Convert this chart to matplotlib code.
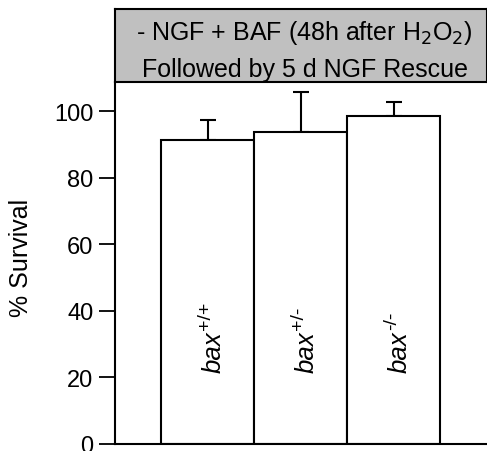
import matplotlib.pyplot as plt

plt.rcParams['font.family'] = ['Liberation Sans', 'DejaVu Sans']

genotypes = ['+/+', '+/-', '-/-']
survival = [91.4, 93.8, 98.6]
sem = [5.8, 12.0, 4.0]
yticks = [0, 20, 40, 60, 80, 100]

fig = plt.figure(figsize=(4.87, 4.52), dpi=100)
ax = fig.add_axes([0.236, 0.0155, 0.764, 0.8005])
head = fig.add_axes([0.236, 0.8160, 0.764, 0.1620])

x = [1, 2, 3]
ax.bar(x, survival, width=1.0, color='white', edgecolor='black', linewidth=1.5, zorder=2)
ax.errorbar(x, survival, yerr=[[0, 0, 0], sem], fmt='none', ecolor='black',
            elinewidth=1.5, capsize=6, capthick=1.5, zorder=1)

ax.set_xlim(0, 4)
ax.set_ylim(0, 108.7)
ax.set_yticks(yticks)
ax.set_xticks([])
ax.tick_params(axis='y', length=11.5, width=1.3, labelsize=17, pad=4)
ax.spines['top'].set_visible(False)
ax.spines['right'].set_visible(False)
for s in ['left', 'bottom']:
    ax.spines[s].set_linewidth(1.5)
ax.set_ylabel('% Survival', fontsize=18)
ax.yaxis.set_label_coords(-0.22, 0.517)

# genotype labels: italic "bax" with a plain superscript, rotated
fig.canvas.draw()
renderer = fig.canvas.get_renderer()
for xi, g in zip(x, genotypes):
    t = ax.annotate('bax', xy=(xi, 21.6), xytext=(9, 0), textcoords='offset points',
                    rotation=90, rotation_mode='anchor', ha='left', va='baseline',
                    fontsize=18.5, style='italic')
    length = t.get_window_extent(renderer).height * 72 / fig.dpi
    ax.annotate(g, xy=(xi, 21.6), xytext=(1.5, length + 1), textcoords='offset points',
                rotation=90, rotation_mode='anchor', ha='left', va='baseline',
                fontsize=14)

head.set_facecolor('#c0c0c0')
head.set_xticks([])
head.set_yticks([])
for s in head.spines.values():
    s.set_linewidth(1.5)
head.text(0.51, 0.59, r'- NGF + BAF (48h after H$_2$O$_2$)', ha='center', va='baseline',
          fontsize=18, transform=head.transAxes)
head.text(0.51, 0.08, 'Followed by 5 d NGF Rescue', ha='center', va='baseline',
          fontsize=18, transform=head.transAxes)

fig.savefig('out.png', dpi=100)
